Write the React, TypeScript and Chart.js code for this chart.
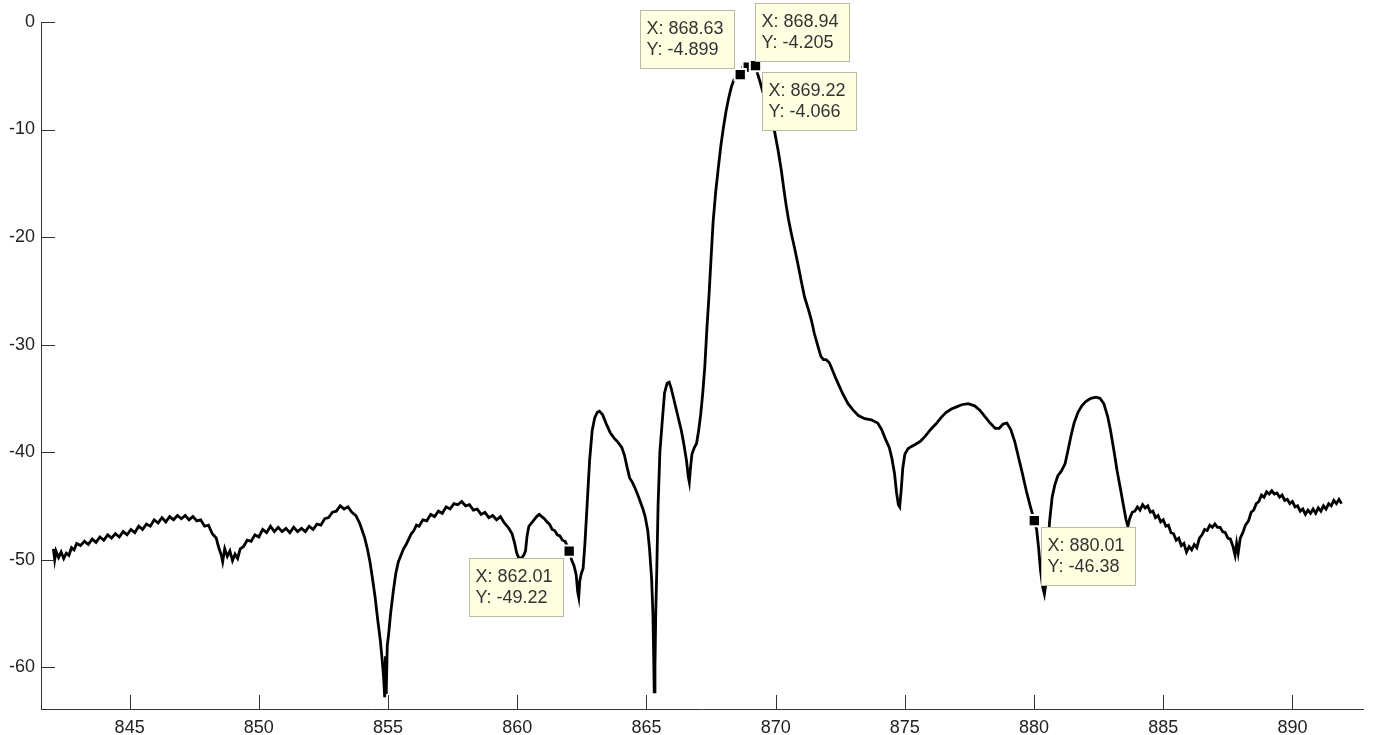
import React, { useEffect, useRef } from "react";
import { Chart, registerables } from "chart.js";

Chart.register(...registerables);

// Frequency (x) and level (y) samples
const freq: number[] = [
  842.05, 842.1, 842.15, 842.25, 842.35, 842.45, 842.55, 842.65, 842.75, 842.85, 842.95, 843.1, 843.25, 843.4, 843.55, 843.7, 843.85, 844.0, 844.15, 844.3, 844.45, 844.6, 844.75, 844.9, 845.05, 845.2, 845.35, 845.5, 845.65, 845.8, 845.95, 846.1, 846.25, 846.4, 846.55, 846.7, 846.85, 847.0, 847.15, 847.3, 847.45, 847.6, 847.75, 847.9, 848.05, 848.2, 848.35, 848.45, 848.55, 848.6, 848.68, 848.78, 848.88, 848.98, 849.08, 849.18, 849.28, 849.4, 849.55, 849.7, 849.85, 850.0, 850.15, 850.3, 850.45, 850.6, 850.75, 850.9, 851.05, 851.2, 851.35, 851.5, 851.65, 851.8, 851.95, 852.1, 852.25, 852.4, 852.55, 852.7, 852.85, 853.0, 853.15, 853.3, 853.45, 853.6, 853.75, 853.9, 854.0, 854.1, 854.2, 854.3, 854.4, 854.5, 854.6, 854.7, 854.78, 854.83, 854.87, 854.9, 854.93, 854.97, 855.02, 855.1, 855.2, 855.3, 855.4, 855.5, 855.6, 855.7, 855.8, 855.9, 856.0, 856.1, 856.2, 856.35, 856.5, 856.65, 856.8, 856.95, 857.1, 857.25, 857.4, 857.55, 857.7, 857.85, 858.0, 858.15, 858.3, 858.45, 858.6, 858.75, 858.9, 859.05, 859.2, 859.35, 859.5, 859.65, 859.8, 859.9, 859.98, 860.05, 860.15, 860.25, 860.32, 860.38, 860.45, 860.55, 860.65, 860.75, 860.85, 860.95, 861.05, 861.15, 861.25, 861.35, 861.45, 861.55, 861.65, 861.75, 861.85, 861.95, 862.01, 862.1, 862.2, 862.28, 862.34, 862.38, 862.42, 862.48, 862.55, 862.62, 862.7, 862.8, 862.9, 863.0, 863.1, 863.18, 863.3, 863.45, 863.6, 863.75, 863.9, 864.05, 864.15, 864.25, 864.35, 864.45, 864.55, 864.7, 864.85, 864.95, 865.05, 865.12, 865.2, 865.25, 865.28, 865.3, 865.33, 865.36, 865.4, 865.45, 865.52, 865.6, 865.7, 865.8, 865.88, 865.95, 866.05, 866.15, 866.25, 866.35, 866.45, 866.55, 866.62, 866.66, 866.7, 866.76, 866.85, 866.94, 867.02, 867.1, 867.18, 867.26, 867.34, 867.42, 867.5, 867.58, 867.68, 867.78, 867.88, 867.98, 868.08, 868.18, 868.28, 868.38, 868.5, 868.63, 868.75, 868.82, 868.94, 869.08, 869.22, 869.3, 869.4, 869.55, 869.7, 869.85, 869.96, 870.1, 870.22, 870.32, 870.41, 870.5, 870.6, 870.73, 870.86, 871.0, 871.12, 871.25, 871.38, 871.5, 871.64, 871.75, 871.85, 871.95, 872.08, 872.2, 872.32, 872.45, 872.6, 872.8, 873.0, 873.2, 873.45, 873.7, 873.95, 874.1, 874.25, 874.4, 874.5, 874.6, 874.68, 874.75, 874.8, 874.86, 874.92, 875.0, 875.12, 875.24, 875.4, 875.6, 875.8, 876.0, 876.2, 876.4, 876.6, 876.8, 877.0, 877.2, 877.45, 877.7, 877.9, 878.1, 878.3, 878.5, 878.65, 878.8, 878.95, 879.1, 879.25, 879.42, 879.55, 879.7, 879.85, 880.01, 880.1, 880.18, 880.25, 880.33, 880.4, 880.47, 880.53, 880.6, 880.7, 880.8, 880.92, 881.05, 881.2, 881.3, 881.42, 881.55, 881.7, 881.85, 882.0, 882.2, 882.4, 882.55, 882.7, 882.85, 882.96, 883.1, 883.21, 883.35, 883.47, 883.56, 883.63, 883.7, 883.8, 883.9, 884.0, 884.1, 884.2, 884.3, 884.4, 884.5, 884.6, 884.7, 884.8, 884.9, 885.0, 885.1, 885.2, 885.3, 885.4, 885.5, 885.6, 885.7, 885.8, 885.9, 886.0, 886.1, 886.2, 886.3, 886.4, 886.5, 886.6, 886.7, 886.8, 886.9, 887.0, 887.1, 887.2, 887.3, 887.4, 887.5, 887.6, 887.7, 887.78, 887.84, 887.9, 887.98, 888.08, 888.18, 888.3, 888.4, 888.5, 888.6, 888.7, 888.8, 888.9, 889.0, 889.1, 889.2, 889.3, 889.4, 889.5, 889.6, 889.7, 889.8, 889.9, 890.0, 890.1, 890.2, 890.3, 890.4, 890.5, 890.6, 890.7, 890.8, 890.9, 891.0, 891.1, 891.2, 891.3, 891.4, 891.5, 891.6, 891.7, 891.8, 891.9,
];

const level: number[] = [
  -49.0, -50.0, -49.2, -49.8, -49.3, -49.9, -49.4, -49.6, -48.9, -49.1, -48.5, -48.7, -48.3, -48.6, -48.1, -48.4, -47.9, -48.2, -47.7, -48.0, -47.6, -47.9, -47.4, -47.7, -47.2, -47.5, -46.9, -47.2, -46.7, -46.9, -46.3, -46.6, -46.1, -46.5, -46.0, -46.3, -45.9, -46.2, -45.9, -46.3, -46.0, -46.4, -46.3, -46.9, -46.8, -47.6, -48.0, -48.9, -49.6, -50.2, -49.0, -49.7, -49.2, -50.1, -49.5, -49.9, -49.0, -48.8, -48.2, -48.3, -47.7, -47.9, -47.2, -47.5, -46.9, -47.4, -47.0, -47.4, -47.1, -47.5, -47.0, -47.4, -47.1, -47.4, -46.9, -47.2, -46.7, -46.8, -46.2, -46.1, -45.6, -45.5, -45.0, -45.3, -45.1, -45.6, -45.9, -46.6, -47.3, -48.0, -49.0, -50.2, -51.8, -53.5, -55.6, -57.5, -59.5, -61.0, -62.8, -59.0, -62.5, -58.0, -57.0, -55.0, -53.0, -51.3, -50.2, -49.6, -49.0, -48.6, -48.1, -47.6, -47.3, -46.8, -46.9, -46.3, -46.4, -45.8, -46.0, -45.5, -45.7, -45.1, -45.3, -44.8, -44.9, -44.6, -45.0, -44.9, -45.4, -45.3, -45.8, -45.6, -46.1, -45.9, -46.3, -46.0, -46.6, -47.0, -47.6, -48.5, -49.4, -49.8, -49.9, -49.6, -49.2, -47.8, -46.9, -46.6, -46.3, -46.0, -45.8, -46.0, -46.2, -46.5, -46.7, -47.2, -47.3, -47.7, -47.8, -48.2, -48.3, -48.8, -49.22, -50.0, -50.6, -51.4, -53.0, -53.5, -52.0, -51.3, -50.8, -48.5, -45.1, -40.8, -38.0, -36.8, -36.3, -36.2, -36.5, -37.4, -38.2, -38.7, -39.1, -39.6, -40.3, -41.4, -42.4, -42.8, -43.3, -44.2, -45.2, -46.0, -47.3, -49.0, -51.8, -55.0, -59.0, -62.3, -60.0, -55.0, -51.0, -45.0, -40.0, -37.5, -34.5, -33.6, -33.5, -34.0, -35.0, -36.0, -37.0, -38.0, -39.3, -40.8, -42.3, -42.8, -41.6, -40.2, -39.6, -39.2, -38.0, -36.5, -34.5, -32.0, -28.5, -25.5, -22.0, -18.6, -15.8, -13.6, -11.5, -9.8, -8.3, -7.1, -6.1, -5.4, -5.1, -4.899, -4.0, -3.85, -4.205, -4.0, -4.066, -4.8, -5.6, -6.9, -8.3, -9.5, -10.2, -12.0, -13.8, -15.6, -17.1, -18.4, -19.6, -21.0, -22.5, -24.2, -25.6, -26.6, -27.7, -29.0, -30.2, -31.1, -31.4, -31.4, -31.7, -32.4, -33.1, -33.8, -34.6, -35.5, -36.1, -36.6, -36.9, -37.0, -37.3, -37.9, -38.8, -39.6, -40.6, -42.0, -43.8, -44.9, -45.1, -43.5, -41.5, -40.2, -39.7, -39.5, -39.3, -39.0, -38.5, -37.9, -37.4, -36.8, -36.3, -36.0, -35.8, -35.6, -35.5, -35.7, -36.1, -36.7, -37.3, -37.8, -37.8, -37.4, -37.3, -37.9, -39.0, -40.7, -42.0, -43.6, -45.0, -46.38, -47.2, -49.0, -51.0, -52.5, -53.2, -52.0, -49.5, -46.5, -44.2, -43.1, -42.2, -41.8, -41.1, -40.0, -38.6, -37.3, -36.3, -35.7, -35.3, -35.0, -34.9, -35.0, -35.5, -36.7, -38.0, -40.0, -41.7, -43.5, -45.1, -46.3, -46.9, -46.2, -45.6, -45.5, -45.1, -45.4, -44.9, -45.2, -45.0, -45.6, -45.5, -46.1, -45.9, -46.5, -46.3, -46.9, -46.8, -47.5, -47.6, -48.2, -48.0, -48.7, -48.5, -49.3, -48.8, -49.1, -48.6, -48.9, -48.0, -47.7, -47.2, -47.3, -46.8, -47.0, -46.7, -47.0, -47.0, -47.4, -47.5, -48.0, -48.1, -48.8, -49.6, -48.5, -49.4, -48.0, -47.5, -46.8, -46.4, -45.6, -45.4, -44.8, -44.6, -44.0, -44.2, -43.7, -43.9, -43.6, -43.9, -43.8, -44.2, -44.0, -44.5, -44.4, -44.8, -44.6, -45.1, -45.0, -45.5, -45.3, -45.8, -45.4, -45.7, -45.3, -45.7, -45.2, -45.5, -45.0, -45.3, -44.8, -45.0, -44.5, -44.8, -44.4, -44.8,
];

// Data tips (drawn in this order)
const tipX: number[] = [862.01, 868.94, 868.63, 869.22, 880.01];
const tipY: number[] = [-49.22, -4.205, -4.899, -4.066, -46.38];
const tipPlace: string[] = ["ll", "ur", "ul", "lr", "lr"];

const xTicks: number[] = [845, 850, 855, 860, 865, 870, 875, 880, 885, 890];
const yTicks: number[] = [-60, -50, -40, -30, -20, -10, 0];
const xMin = 841.57;
const xMax = 892.73;
const yMin = -63.9;
const yMax = 0;

const FONT = "'Liberation Sans', Arial, sans-serif";

const innerTicks = {
  id: "innerTicks",
  afterDraw(chart: any) {
    const { ctx, chartArea, scales } = chart;
    ctx.save();
    ctx.strokeStyle = "#333";
    ctx.lineWidth = 1;
    ctx.beginPath();
    for (const v of xTicks) {
      const px = Math.round(scales.x.getPixelForValue(v)) + 0.5;
      ctx.moveTo(px, chartArea.bottom);
      ctx.lineTo(px, chartArea.bottom - 14);
    }
    for (const v of yTicks) {
      const py = Math.round(scales.y.getPixelForValue(v)) + 0.5;
      ctx.moveTo(chartArea.left, py);
      ctx.lineTo(chartArea.left + 14, py);
    }
    ctx.stroke();
    ctx.restore();
  },
};

const dataTips = {
  id: "dataTips",
  afterDraw(chart: any) {
    const { ctx, scales } = chart;
    const w = 94;
    const h = 58;
    const gap = 6.5;
    ctx.save();
    ctx.font = `18px ${FONT}`;
    ctx.textBaseline = "middle";
    ctx.textAlign = "left";
    tipX.forEach((xv, i) => {
      const px = scales.x.getPixelForValue(xv);
      const py = scales.y.getPixelForValue(tipY[i]);
      const p = tipPlace[i];
      const left = p[1] === "r" ? px + gap : px - gap - w;
      const top = p[0] === "l" ? py + gap : py - gap - h;
      const L = Math.round(left) + 0.5;
      const T = Math.round(top) + 0.5;
      ctx.fillStyle = "#FFFFE1";
      ctx.fillRect(L, T, w, h);
      ctx.strokeStyle = "#B9B9A6";
      ctx.lineWidth = 1;
      ctx.strokeRect(L, T, w, h);
      ctx.fillStyle = "#333";
      ctx.fillText(`X: ${xv.toPrecision(5)}`, L + 6, T + 18.5);
      ctx.fillText(`Y: ${tipY[i].toPrecision(4)}`, L + 6, T + 40);
    });
    ctx.restore();
  },
};

export default function App() {
  const ref = useRef<HTMLCanvasElement | null>(null);

  useEffect(() => {
    document.body.style.margin = "0";
    document.body.style.background = "#fff";
    if (!ref.current) return;
    const lineData = freq.map((x, i) => ({ x, y: level[i] }));
    const tipData = tipX.map((x, i) => ({ x, y: tipY[i] }));
    const chart = new Chart(ref.current, {
      type: "line",
      data: {
        datasets: [
          {
            data: tipData,
            showLine: false,
            pointStyle: "rect",
            pointRadius: 8,
            pointBackgroundColor: "#000",
            pointBorderColor: "#fff",
            pointBorderWidth: 2,
            order: 0,
          } as any,
          {
            data: lineData,
            borderColor: "#000",
            borderWidth: 2.8,
            pointRadius: 0,
            tension: 0,
            fill: false,
            order: 1,
          },
        ],
      },
      options: {
        animation: false,
        responsive: true,
        maintainAspectRatio: false,
        events: [],
        layout: { padding: { left: 0, right: 6, top: 22, bottom: 0 } },
        plugins: { legend: { display: false }, tooltip: { enabled: false } },
        scales: {
          x: {
            type: "linear",
            min: xMin,
            max: xMax,
            grid: { display: false, drawTicks: false },
            border: { display: true, color: "#333", width: 1 },
            afterBuildTicks: (s: any) => {
              s.ticks = xTicks.map((v) => ({ value: v }));
            },
            afterFit: (s: any) => {
              s.height = 26;
            },
            ticks: {
              autoSkip: false,
              maxRotation: 0,
              padding: 8,
              color: "#222",
              font: { family: FONT, size: 18 },
              callback: (v: any) => String(v),
            },
          },
          y: {
            type: "linear",
            min: yMin,
            max: yMax,
            grid: { display: false, drawTicks: false },
            border: { display: true, color: "#333", width: 1 },
            afterBuildTicks: (s: any) => {
              s.ticks = yTicks.map((v) => ({ value: v }));
            },
            afterFit: (s: any) => {
              s.width = 41;
            },
            ticks: {
              autoSkip: false,
              padding: 6,
              color: "#222",
              font: { family: FONT, size: 18 },
              callback: (v: any) => String(v),
            },
          },
        },
      },
      plugins: [innerTicks, dataTips],
    });
    return () => chart.destroy();
  }, []);

  return (
    <div style={{ width: "1373px", height: "735px", position: "relative" }}>
      <canvas ref={ref} />
    </div>
  );
}
